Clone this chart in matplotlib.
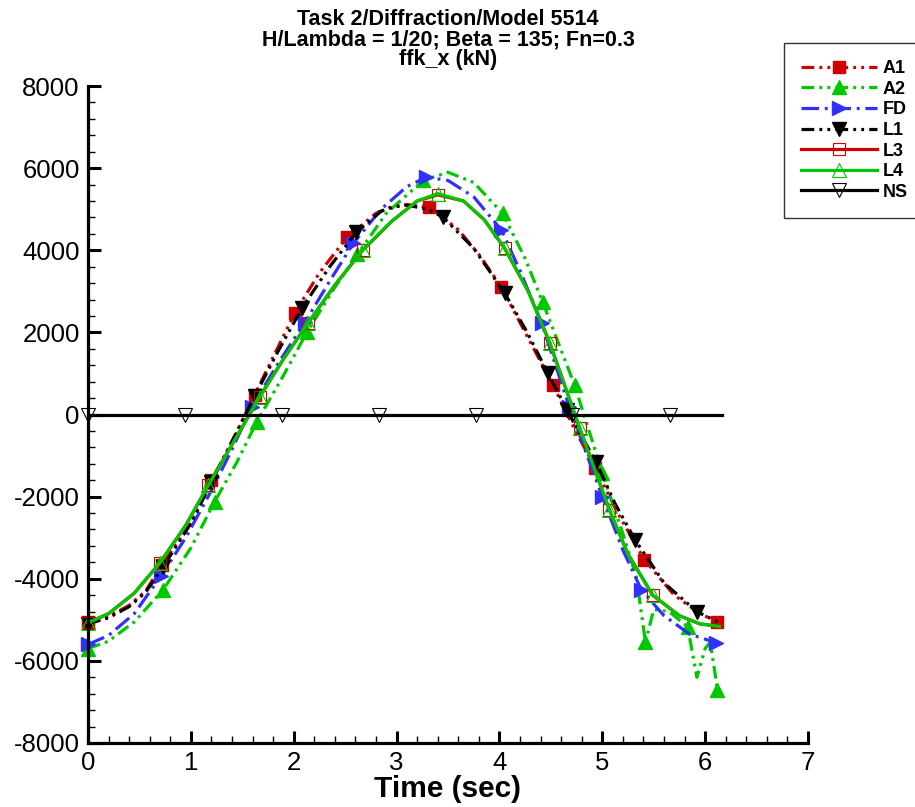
import matplotlib
matplotlib.use("Agg")
import matplotlib.pyplot as plt
from matplotlib.lines import Line2D

plt.rcParams['font.family'] = ['Liberation Sans', 'DejaVu Sans']
plt.rcParams['axes.unicode_minus'] = False

# A1: red dash-dot-dot, filled squares
a1_t = [0.0, 0.2, 0.4, 0.56, 0.72, 1.0, 1.2, 1.42, 1.62, 1.82, 2.01, 2.25, 2.52, 2.8, 2.95, 3.1, 3.32,
        3.6, 3.8, 4.02, 4.25, 4.52, 4.72, 4.93, 5.15, 5.41, 5.7, 5.95, 6.12]
a1_v = [-5050, -4920, -4650, -4300, -3660, -2650, -1600, -580, 475, 1500, 2470, 3450, 4320, 4900, 5060, 5110, 5050,
        4500, 3900, 3100, 2000, 720, -300, -1300, -2400, -3540, -4400, -4850, -5050]
a1_mk = [0, 4, 6, 8, 10, 12, 16, 19, 21, 23, 25, 28]

# A2: green dash-dot-dot, filled up triangles
a2_t = [0.0, 0.2, 0.45, 0.73, 1.0, 1.23, 1.45, 1.64, 1.9, 2.13, 2.4, 2.62, 2.9, 3.26, 3.5, 3.75,
        4.03, 4.25, 4.42, 4.73, 5.0, 5.2, 5.33, 5.42, 5.5, 5.65, 5.83, 5.92, 6.0, 6.05, 6.12]
a2_v = [-5700, -5520, -5050, -4270, -3250, -2130, -1150, -180, 950, 2010, 3100, 3900, 4900, 5700, 5900, 5650,
        4900, 3800, 2740, 720, -1420, -2900, -3950, -5540, -4750, -4800, -5170, -6400, -5700, -5550, -6700]
a2_mk = [0, 3, 5, 7, 9, 11, 13, 16, 18, 19, 20, 23, 26, 30]

# FD: blue dash-dot, filled right triangles
fd_t = [0.0, 0.2, 0.45, 0.71, 0.95, 1.2, 1.4, 1.59, 1.85, 2.11, 2.35, 2.58, 2.85, 3.1, 3.29,
        3.5, 3.75, 4.02, 4.2, 4.41, 4.68, 5.0, 5.2, 5.38, 5.6, 5.85, 6.11]
fd_v = [-5600, -5380, -4850, -3930, -3000, -1850, -850, 180, 1250, 2250, 3250, 4170, 5000, 5550, 5780,
        5700, 5300, 4490, 3500, 2230, 180, -2000, -3300, -4270, -4900, -5350, -5560]
fd_mk = [0, 3, 7, 9, 11, 14, 17, 19, 20, 21, 23, 26]

# L1: black dash-dot-dot, filled down triangles
l1_t = [0.0, 0.2, 0.4, 0.56, 0.73, 1.0, 1.2, 1.42, 1.62, 1.85, 2.08, 2.35, 2.61, 2.85, 2.98, 3.1, 3.3,
        3.45, 3.75, 4.05, 4.27, 4.47, 4.66, 4.94, 5.12, 5.32, 5.6, 5.92, 6.12]
l1_v = [-5100, -4950, -4680, -4330, -3710, -2650, -1650, -550, 450, 1550, 2590, 3600, 4440, 4950, 5060, 5100, 5000,
        4810, 4050, 2960, 2000, 1010, 100, -1160, -2150, -3060, -4100, -4800, -5050]
l1_mk = [0, 4, 6, 8, 10, 12, 17, 19, 21, 22, 23, 25, 27]

# L3: red solid, open squares
l3_t = [0.0, 0.2, 0.45, 0.70, 0.95, 1.17, 1.42, 1.67, 1.9, 2.14, 2.4, 2.67, 2.95, 3.2, 3.40,
        3.65, 3.85, 4.05, 4.28, 4.49, 4.78, 5.07, 5.25, 5.49, 5.75, 5.95, 6.14]
l3_v = [-5070, -4850, -4350, -3610, -2700, -1720, -650, 430, 1350, 2230, 3150, 4000, 4700, 5200, 5350,
        5200, 4750, 4050, 3000, 1740, -330, -2330, -3400, -4400, -4900, -5100, -5160]
l3_mk = [0, 3, 5, 7, 9, 11, 14, 17, 19, 20, 21, 23]

# L4: green solid, open up triangles
l4_t = [0.0, 0.2, 0.45, 0.70, 0.95, 1.17, 1.42, 1.67, 1.9, 2.14, 2.4, 2.67, 2.95, 3.2, 3.40,
        3.65, 3.85, 4.05, 4.28, 4.49, 4.78, 5.07, 5.25, 5.49, 5.75, 5.95, 6.14]
l4_v = [-5070, -4850, -4350, -3610, -2700, -1720, -650, 430, 1350, 2230, 3150, 4000, 4700, 5200, 5380,
        5200, 4750, 4050, 3000, 1740, -330, -2330, -3400, -4400, -4900, -5100, -5160]
l4_mk = [0, 3, 5, 7, 9, 11, 14, 17, 19, 20, 21, 23]

# NS: black solid, open down triangles
ns_t = [0.0, 0.94, 1.89, 2.83, 3.77, 4.71, 5.66, 6.16]
ns_v = [0, 0, 0, 0, 0, 0, 0, 0]
ns_mk = [0, 1, 2, 3, 4, 5, 6]

RED = '#d00000'
GREEN = '#00c800'
BLUE = '#3030ff'
LW = 2.3
DDD = (4.0, 1.6, 0.9, 1.6, 0.9, 1.6)
DD = (5.5, 1.8, 0.9, 1.8)

series = [
    ('A1', a1_t, a1_v, a1_mk, dict(color=RED, dashes=DDD, marker='s', ms=8.5, mfc=RED, mec=RED)),
    ('A2', a2_t, a2_v, a2_mk, dict(color=GREEN, dashes=DDD, marker='^', ms=10, mfc=GREEN, mec=GREEN)),
    ('FD', fd_t, fd_v, fd_mk, dict(color=BLUE, dashes=DD, marker='>', ms=10, mfc=BLUE, mec=BLUE)),
    ('L1', l1_t, l1_v, l1_mk, dict(color='black', dashes=DDD, marker='v', ms=10, mfc='black', mec='black')),
    ('L3', l3_t, l3_v, l3_mk, dict(color=RED, ls='-', marker='s', ms=8.5, mfc='none', mec=RED, mew=0.8)),
    ('L4', l4_t, l4_v, l4_mk, dict(color=GREEN, ls='-', marker='^', ms=10, mfc='none', mec=GREEN, mew=0.8)),
    ('NS', ns_t, ns_v, ns_mk, dict(color='black', ls='-', marker='v', ms=10, mfc='none', mec='black', mew=0.8)),
]

fig = plt.figure(figsize=(9.15, 8.07), dpi=100)
ax = fig.add_axes([88/915, 1-743/807, 720/915, 657/807])

handles = []
for name, t, v, mk, st in series:
    ax.plot(t, v, lw=LW, markevery=mk, clip_on=False, **st)
    handles.append(Line2D([0], [0], lw=LW, **st))

ax.set_xlim(0, 7)
ax.set_ylim(-8000, 8000)
ax.set_xticks(range(0, 8))
ax.set_yticks(range(-8000, 8001, 2000))
ax.set_xticks([i*0.2 for i in range(36)], minor=True)
ax.set_yticks(range(-8000, 8001, 400), minor=True)
ax.tick_params(which='major', direction='in', length=9, width=2.2, labelsize=18.5, pad=6)
ax.tick_params(which='minor', direction='in', length=5, width=1)
for s in ['top', 'right']:
    ax.spines[s].set_visible(False)
for s in ['left', 'bottom']:
    ax.spines[s].set_linewidth(2.3)

ax.set_xlabel('Time (sec)', fontsize=21.5, fontweight='bold', labelpad=0)
ax.set_title('Task 2/Diffraction/Model 5514\nH/Lambda = 1/20; Beta = 135; Fn=0.3\nffk_x (kN)',
             fontsize=15.5, fontweight='bold', pad=15, linespacing=0.93)

leg = fig.legend(handles, [s[0] for s in series], loc='upper left',
                 bbox_to_anchor=(784/915, 1-43/807), frameon=True, fancybox=False,
                 prop={'weight': 'bold', 'size': 13}, handlelength=4.2, handletextpad=0.3,
                 labelspacing=0.2, borderpad=0.95, borderaxespad=0, numpoints=1)
leg.get_frame().set_edgecolor('black')
leg.get_frame().set_linewidth(1)

fig.savefig('out.png', dpi=100)
